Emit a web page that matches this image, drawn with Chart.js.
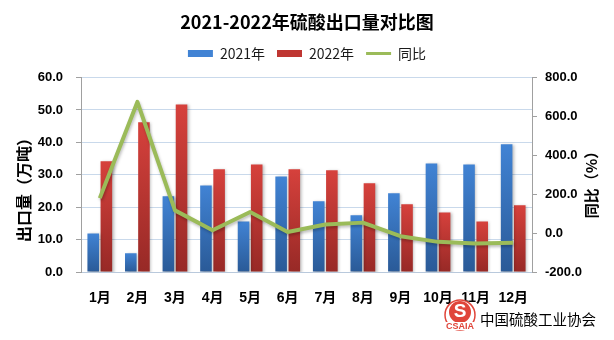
<!DOCTYPE html>
<html><head><meta charset="utf-8">
<script src="https://cdn.jsdelivr.net/npm/chart.js@4/dist/chart.umd.min.js"></script>
<style>html,body{margin:0;padding:0;background:#fff}#wrap{width:614px;height:340px}</style>
</head><body><div id="wrap"><canvas id="c" width="614" height="340"></canvas></div>
<script>
const TITLE = '2021-2022年硫酸出口量对比图';
const MONTHS = ['1月','2月','3月','4月','5月','6月','7月','8月','9月','10月','11月','12月'];
const SERIES_NAMES = ['2021年','2022年','同比'];
const EXPORT_2021 = [11.9, 5.8, 23.4, 26.7, 15.6, 29.5, 21.8, 17.5, 24.3, 33.5, 33.2, 39.4];
const EXPORT_2022 = [34.2, 46.2, 51.7, 31.7, 33.2, 31.7, 31.4, 27.4, 20.9, 18.4, 15.6, 20.6];
const YOY_PCT = [180, 675, 117, 15, 109, 6, 44, 54, -16, -45, -54, -49];
const Y_TITLE = '出口量（万吨）';
const Y1_TITLE = '同比（%）';
const SOURCE_TEXT = '中国硫酸工业协会';
const LOGO_TEXT = 'CSAIA';

const BLUE_TOP = '#4183d4', BLUE_BOT = '#2a5a97';
const RED_TOP = '#d6413c', RED_BOT = '#972926';
const GREEN = '#9bbb59';
const CJK = '"Noto Sans CJK SC", "Liberation Sans", sans-serif';
const NUM = '"Liberation Sans", "Noto Sans CJK SC", sans-serif';

function barGradient(top, bot) {
  return (ctx) => {
    const chart = ctx.chart;
    const ys = chart.scales && chart.scales.y;
    if (!ys || ctx.type !== 'data' || ctx.parsed == null) return bot;
    const y0 = ys.getPixelForValue(0);
    const y1 = ys.getPixelForValue(ctx.parsed.y);
    if (!isFinite(y0) || !isFinite(y1) || y0 === y1) return bot;
    const g = chart.ctx.createLinearGradient(0, y1, 0, y0);
    g.addColorStop(0, top);
    g.addColorStop(1, bot);
    return g;
  };
}

const LEGEND_SHIFT = 7;

const decorPlugin = {
  id: 'decor',
  afterLayout(chart) {
    const lg = chart.legend;
    if (lg) { lg.top -= LEGEND_SHIFT; lg.bottom -= LEGEND_SHIFT; }
  },
  beforeDatasetDraw(chart, args) {
    const c = chart.ctx;
    c.save();
    if (args.meta.type === 'bar') {
      c.shadowColor = 'rgba(0,0,0,0.28)';
      c.shadowBlur = 3; c.shadowOffsetX = 1.5; c.shadowOffsetY = 1;
    } else {
      c.shadowColor = 'rgba(0,0,0,0.25)';
      c.shadowBlur = 3; c.shadowOffsetX = 1; c.shadowOffsetY = 2;
    }
  },
  afterDatasetDraw(chart) { chart.ctx.restore(); },
  afterDraw(chart) {
    const c = chart.ctx;
    c.save();
    c.fillStyle = '#000';
    c.textAlign = 'center'; c.textBaseline = 'middle';
    c.font = 'bold 16px ' + CJK;
    c.translate(24, 186); c.rotate(-Math.PI / 2);
    c.fillText(Y_TITLE, 0, 0);
    c.restore();
    c.save();
    c.fillStyle = '#000';
    c.textAlign = 'center'; c.textBaseline = 'middle';
    c.font = 'bold 15px ' + CJK;
    c.translate(591, 181); c.rotate(-Math.PI / 2);
    c.fillText(Y1_TITLE, 0, 0);
    c.restore();
    // logo
    c.save();
    const cx = 460, cy = 315;
    c.beginPath(); c.arc(cx, cy, 15, 0, Math.PI * 2);
    c.fillStyle = '#fff'; c.fill();
    c.lineWidth = 1.5; c.strokeStyle = '#e0453a'; c.stroke();
    c.beginPath(); c.arc(cx, cy - 3, 11, 0, Math.PI * 2);
    c.fillStyle = '#e0453a'; c.fill();
    c.fillStyle = '#fff'; c.textAlign = 'center'; c.textBaseline = 'middle';
    c.font = 'bold 19px ' + NUM;
    c.fillText('S', cx, cy - 3);
    c.fillStyle = '#fff';
    c.fillRect(cx - 16, cy + 7, 32, 8);
    c.fillStyle = '#e0453a';
    c.font = 'bold 9px ' + NUM;
    c.fillText(LOGO_TEXT, cx, cy + 11.5);
    c.restore();
    c.save();
    c.fillStyle = '#000'; c.textAlign = 'left'; c.textBaseline = 'middle';
    c.font = '14.5px ' + CJK;
    c.fillText(SOURCE_TEXT, 480, 319);
    c.restore();
  }
};

new Chart(document.getElementById('c'), {
  type: 'bar',
  data: {
    labels: MONTHS,
    datasets: [
      { label: SERIES_NAMES[0], data: EXPORT_2021, yAxisID: 'y', order: 2,
        backgroundColor: barGradient(BLUE_TOP, BLUE_BOT), borderWidth: 0,
        categoryPercentage: 0.7, barPercentage: 0.88 },
      { label: SERIES_NAMES[1], data: EXPORT_2022, yAxisID: 'y', order: 2,
        backgroundColor: barGradient(RED_TOP, RED_BOT), borderWidth: 0,
        categoryPercentage: 0.7, barPercentage: 0.88 },
      { type: 'line', label: SERIES_NAMES[2], data: YOY_PCT, yAxisID: 'y1', order: 0,
        borderColor: GREEN, backgroundColor: GREEN, borderWidth: 4, pointRadius: 0,
        tension: 0, fill: false, borderJoinStyle: 'round', borderCapStyle: 'butt' }
    ]
  },
  options: {
    responsive: false,
    animation: false,
    devicePixelRatio: 1,
    layout: { padding: { left: 0, right: 0, top: 0, bottom: 0 } },
    plugins: {
      tooltip: { enabled: false },
      title: {
        display: true, text: TITLE, color: '#000',
        font: { family: CJK, size: 18, weight: 'bold' },
        padding: { top: 11, bottom: 2 + LEGEND_SHIFT }
      },
      legend: {
        display: true, position: 'top',
        labels: {
          usePointStyle: true, pointStyleWidth: 25, boxHeight: 7,
          padding: 12, color: '#1a1a1a',
          font: { family: CJK, size: 14 },
          generateLabels: () => [
            { text: SERIES_NAMES[0], fillStyle: BLUE_TOP, strokeStyle: BLUE_TOP, lineWidth: 0, pointStyle: 'rect', datasetIndex: 0, hidden: false, fontColor: '#1a1a1a' },
            { text: SERIES_NAMES[1], fillStyle: '#bf3632', strokeStyle: '#bf3632', lineWidth: 0, pointStyle: 'rect', datasetIndex: 1, hidden: false, fontColor: '#1a1a1a' },
            { text: SERIES_NAMES[2], fillStyle: GREEN, strokeStyle: GREEN, lineWidth: 3, pointStyle: 'line', datasetIndex: 2, hidden: false, fontColor: '#1a1a1a' }
          ]
        }
      }
    },
    scales: {
      x: {
        grid: { display: false },
        border: { display: true, color: '#b9c9dc' },
        ticks: { color: '#000', font: { family: NUM, size: 14, weight: 'bold' }, padding: 10, maxRotation: 0, autoSkip: false },
        afterFit: (s) => { s.height = 68; }
      },
      y: {
        position: 'left', min: 0, max: 60,
        ticks: { stepSize: 10, color: '#000', padding: 13,
          font: { family: NUM, size: 13, weight: 'bold' },
          callback: (v) => Number(v).toFixed(1) },
        grid: { color: '#c9d9eb', lineWidth: 1, tickLength: 5, tickColor: '#a0a0a0' },
        border: { display: true, color: '#a0a0a0' },
        afterFit: (s) => { s.width = 81; }
      },
      y1: {
        position: 'right', min: -200, max: 800,
        ticks: { stepSize: 200, color: '#000', padding: 8,
          font: { family: NUM, size: 13, weight: 'bold' },
          callback: (v) => Number(v).toFixed(1) },
        grid: { drawOnChartArea: false, tickLength: 5, color: '#a0a0a0' },
        border: { display: true, color: '#a0a0a0' },
        afterFit: (s) => { s.width = 82; }
      }
    }
  },
  plugins: [decorPlugin]
});
</script></body></html>
